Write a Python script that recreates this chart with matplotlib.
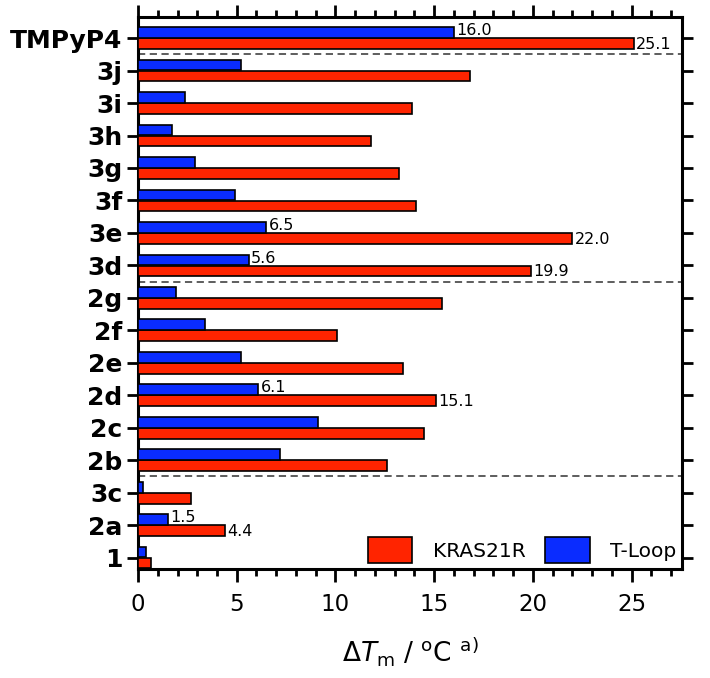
import matplotlib
matplotlib.use("Agg")
import matplotlib.pyplot as plt
from matplotlib.ticker import MultipleLocator
from matplotlib.patches import Patch
import numpy as np

categories = ["1", "2a", "3c", "2b", "2c", "2d", "2e", "2f", "2g",
              "3d", "3e", "3f", "3g", "3h", "3i", "3j", "TMPyP4"]
kras21r = [0.66, 4.4, 2.67, 12.6, 14.5, 15.1, 13.4, 10.1, 15.4,
           19.9, 22.0, 14.1, 13.2, 11.8, 13.9, 16.8, 25.1]
tloop = [0.38, 1.5, 0.25, 7.2, 9.1, 6.1, 5.2, 3.4, 1.9,
         5.6, 6.5, 4.9, 2.9, 1.7, 2.4, 5.2, 16.0]
labeled_k = {"2a": "4.4", "2d": "15.1", "3d": "19.9", "3e": "22.0", "TMPyP4": "25.1"}
labeled_t = {"2a": "1.5", "2d": "6.1", "3d": "5.6", "3e": "6.5", "TMPyP4": "16.0"}
separators = [2.5, 8.5, 15.5]

plt.rcParams['mathtext.fontset'] = 'dejavusans'
fig = plt.figure(figsize=(7.1, 6.78), dpi=100)
ax = fig.add_axes([0.1944, 0.1608, 0.9606 - 0.1944, 0.9749 - 0.1608])

red = '#FF2400'
blue = '#0A2CFF'
y = np.arange(len(categories))
h = 0.33
ax.barh(y - h / 2 - 0.005, kras21r, height=h, color=red, edgecolor='black', linewidth=1.2, zorder=3)
ax.barh(y + h / 2 + 0.005, tloop, height=h, color=blue, edgecolor='black', linewidth=1.2, zorder=3)

for i, c in enumerate(categories):
    if c in labeled_k:
        ax.text(kras21r[i] + 0.12, y[i] - h / 2 - 0.03, labeled_k[c], va='center', ha='left',
                fontsize=11.5, family='DejaVu Sans')
    if c in labeled_t:
        ax.text(tloop[i] + 0.12, y[i] + h / 2 + 0.06, labeled_t[c], va='center', ha='left',
                fontsize=11.5, family='DejaVu Sans')

for s in separators:
    ax.axhline(s, color='#505050', linestyle=(0, (4, 2.5)), linewidth=1.3, zorder=2)

ax.set_xlim(0, 27.55)
ax.set_ylim(-0.35, 16.65)
ax.set_yticks(y)
ax.set_yticklabels(categories, fontsize=18, fontweight='bold')
ax.xaxis.set_major_locator(MultipleLocator(5))
ax.xaxis.set_minor_locator(MultipleLocator(1))
ax.tick_params(axis='x', which='major', direction='out', length=9, width=2, labelsize=16.5,
               top=True, bottom=True, pad=8)
ax.tick_params(axis='x', which='minor', direction='out', length=5, width=2, top=True, bottom=True)
ax.tick_params(axis='y', which='major', direction='out', length=8, width=2,
               left=True, right=True, pad=3)
for sp in ax.spines.values():
    sp.set_linewidth(2.2)

ax.set_xlabel(r'$\Delta\mathit{T}_{\mathrm{m}}$ / $^{\mathrm{o}}$C $^{\mathrm{a)}}$', fontsize=19, labelpad=14)

handles = [Patch(facecolor=red, edgecolor='black', linewidth=1.2),
           Patch(facecolor=blue, edgecolor='black', linewidth=1.2)]
ax.legend(handles, ['KRAS21R', 'T-Loop'], loc='lower right', ncol=2, frameon=False,
          fontsize=14.5, handlelength=2.2, handleheight=1.6, handletextpad=1.0,
          columnspacing=1.0, borderaxespad=0.0, bbox_to_anchor=(1.004, -0.004))

fig.savefig('out.png', dpi=100)
